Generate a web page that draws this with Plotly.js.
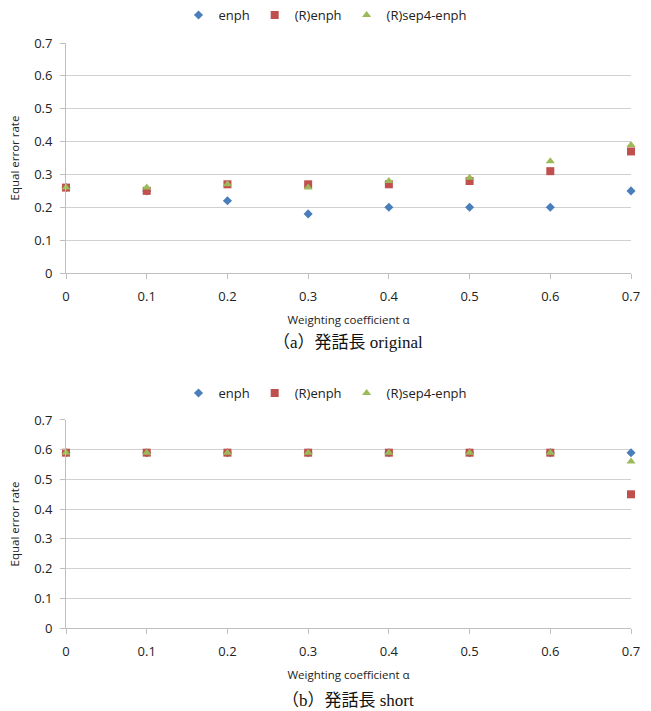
<!DOCTYPE html>
<html><head><meta charset="utf-8">
<script src="https://cdn.plot.ly/plotly-3.0.1.min.js"></script>
<style>body{margin:0;background:#fff}#c{width:651px;height:711px}</style>
</head><body><div id="c"></div>
<script>
const alpha = [0, 0.1, 0.2, 0.3, 0.4, 0.5, 0.6, 0.7];
const seriesNames = ["enph", "(R)enph", "(R)sep4-enph"];
// (a) original
const origEnph = [0.26, 0.25, 0.22, 0.18, 0.20, 0.20, 0.20, 0.25];
const origREnph = [0.26, 0.25, 0.27, 0.27, 0.27, 0.28, 0.31, 0.37];
const origRSep4 = [0.26, 0.26, 0.27, 0.26, 0.28, 0.29, 0.34, 0.39];
// (b) short
const shortEnph = [0.59, 0.59, 0.59, 0.59, 0.59, 0.59, 0.59, 0.59];
const shortREnph = [0.59, 0.59, 0.59, 0.59, 0.59, 0.59, 0.59, 0.45];
const shortRSep4 = [0.59, 0.59, 0.59, 0.59, 0.59, 0.59, 0.59, 0.56];
const yTicks = [0, 0.1, 0.2, 0.3, 0.4, 0.5, 0.6, 0.7];
const captions = ["（a）発話長 original", "（b）発話長 short"];

const colors = ["#4A7EBB", "#C0504D", "#9BBB59"];
const symbols = ["diamond", "square", "triangle-up"];
const sizes = [7, 8, 8];

const traces = [];
[[origEnph, origREnph, origRSep4], [shortEnph, shortREnph, shortRSep4]].forEach((set, p) => {
  set.forEach((vals, i) => {
    traces.push({
      x: alpha, y: vals, type: "scatter", mode: "markers", name: seriesNames[i],
      xaxis: p === 0 ? "x" : "x2", yaxis: p === 0 ? "y" : "y2",
      legend: p === 0 ? "legend" : "legend2",
      marker: {color: colors[i], symbol: symbols[i], size: sizes[i]},
      cliponaxis: false
    });
  });
});

const tickFont = {family: "Open Sans, Liberation Sans, sans-serif", size: 13, color: "#222"};
const titleFont = {family: "Open Sans, Liberation Sans, sans-serif", size: 11.5, color: "#222"};
function xax(anchor, domain) {
  return {domain: domain, anchor: anchor, range: [0, 0.7], tickvals: alpha, ticktext: alpha.map(String),
    showgrid: false, zeroline: false, showline: true, linecolor: "#BFBFBF", linewidth: 1,
    ticks: "outside", ticklen: 5, tickcolor: "#BFBFBF", tickfont: tickFont, ticklabelstandoff: 6,
    title: {text: "Weighting coefficient α", font: titleFont, standoff: 12}};
}
function yax(anchor, domain) {
  return {domain: domain, anchor: anchor, range: [0, 0.7], tickvals: yTicks, ticktext: yTicks.map(String),
    showgrid: true, gridcolor: "#D0D0D0", gridwidth: 1, zeroline: false, showline: true, linecolor: "#BFBFBF",
    ticks: "outside", ticklen: 5, tickcolor: "#BFBFBF", tickfont: tickFont, ticklabelstandoff: 5,
    title: {text: "Equal error rate", font: titleFont, standoff: 12}};
}
const legendBase = {orientation: "h", xanchor: "center", x: 0.5, yanchor: "middle",
  font: {family: "Open Sans, Liberation Sans, sans-serif", size: 13, color: "#222"},
  itemwidth: 30, tracegroupgap: 0};

const layout = {
  width: 651, height: 711, margin: {l: 0, r: 0, t: 0, b: 0},
  paper_bgcolor: "#fff", plot_bgcolor: "#fff",
  xaxis: xax("y", [0.1014, 0.9693]),
  yaxis: yax("x", [0.616, 0.9395]),
  xaxis2: xax("y2", [0.1014, 0.9693]),
  yaxis2: yax("x2", [0.1167, 0.4093]),
  legend: Object.assign({}, legendBase, {y: 1 - 15/711}),
  legend2: Object.assign({}, legendBase, {y: 1 - 393/711}),
  annotations: captions.map((t, i) => ({text: t, xref: "paper", yref: "paper", x: 0.535,
    y: 1 - (i === 0 ? 343 : 700)/711, showarrow: false, xanchor: "center", yanchor: "middle",
    font: {family: "Liberation Serif, Noto Sans CJK JP, serif", size: 17, color: "#111"}})),
  showlegend: true
};
Plotly.newPlot("c", traces, layout, {staticPlot: true});
</script></body></html>
